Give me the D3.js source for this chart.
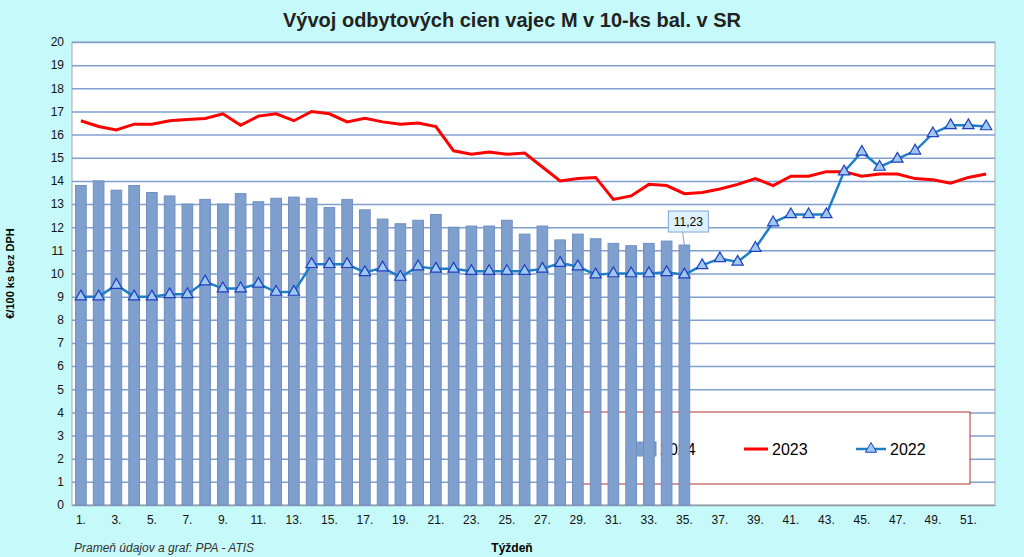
<!DOCTYPE html>
<head>
<meta charset="utf-8">
<script src="https://d3js.org/d3.v7.min.js"></script>
<style>
body{margin:0;background:#c6fafa;}
text{font-family:"Liberation Sans",Arial,sans-serif;}
.title{font-size:20px;font-weight:700;fill:#222;}
.tick text{font-size:12px;fill:#111;}
.tick line{stroke:#7f9fcf;}
path.domain{stroke:#999;}
</style>
</head>
<body>
<script>
const width = 1024, height = 557;
const margin = {top: 42, right: 29, bottom: 52, left: 72};

const weeks = d3.range(1, 53);
const tickWeeks = d3.range(1, 53, 2);
const yTicks = d3.range(0, 21);
const v2024 = [13.8,14.0,13.6,13.8,13.5,13.35,13.0,13.2,13.0,13.45,13.1,13.25,13.3,13.25,12.85,13.2,12.75,12.35,12.15,12.3,12.55,12.0,12.05,12.05,12.3,11.7,12.05,11.45,11.7,11.5,11.3,11.2,11.3,11.4,11.23];
const v2023 = [16.6,16.35,16.2,16.45,16.45,16.6,16.65,16.7,16.9,16.4,16.8,16.9,16.6,17.0,16.9,16.55,16.7,16.55,16.45,16.5,16.35,15.3,15.15,15.25,15.15,15.2,14.6,14.0,14.1,14.15,13.2,13.35,13.85,13.8,13.45,13.5,13.65,13.85,14.1,13.8,14.2,14.2,14.4,14.4,14.2,14.3,14.3,14.1,14.05,13.9,14.15,14.3];
const v2022 = [9.0,9.0,9.5,9.0,9.0,9.1,9.1,9.65,9.35,9.35,9.55,9.2,9.2,10.4,10.4,10.4,10.05,10.25,9.85,10.3,10.2,10.2,10.1,10.1,10.1,10.1,10.2,10.45,10.3,9.95,10.0,10.0,10.0,10.05,9.95,10.35,10.65,10.5,11.1,12.2,12.55,12.55,12.55,14.4,15.25,14.6,14.95,15.3,16.05,16.4,16.4,16.35];

const svg = d3.select("body").append("svg").attr("width", width).attr("height", height);

const x = d3.scaleBand().domain(weeks).range([margin.left, width - margin.right]).paddingInner(0.4).paddingOuter(0.2);
const y = d3.scaleLinear().domain([0, 20]).range([height - margin.bottom, margin.top]);
const cx = w => x(w) + x.bandwidth() / 2;

svg.append("rect").attr("x", margin.left).attr("y", margin.top)
   .attr("width", width - margin.right - margin.left).attr("height", y(0) - margin.top)
   .attr("fill", "#fff").attr("stroke", "#aaa");

svg.append("g").attr("transform", `translate(${margin.left},0)`)
   .call(d3.axisLeft(y).tickValues(yTicks).tickSize(-(width - margin.left - margin.right)).tickPadding(8))
   .call(g => g.select(".domain").remove())
   .selectAll(".tick line").attr("stroke-width", 1.5);

svg.append("g").attr("transform", `translate(0,${y(0)})`)
   .call(d3.axisBottom(x).tickValues(tickWeeks).tickFormat(d => d + ".").tickSize(0).tickPadding(10));

svg.append("text").attr("class", "title").attr("x", 512).attr("y", 27).attr("text-anchor", "middle")
   .text("Vývoj odbytových cien vajec M v 10-ks bal. v SR");
svg.append("text").attr("transform", `translate(14,${y(10)}) rotate(-90)`).attr("text-anchor", "middle")
   .style("font-size", "11px").style("font-weight", "700").text("€/100 ks bez DPH");
svg.append("text").attr("x", 512).attr("y", 552).attr("text-anchor", "middle")
   .style("font-size", "12px").style("font-weight", "700").text("Týždeň");
svg.append("text").attr("x", 74).attr("y", 552).style("font-size", "12px").style("font-style", "italic")
   .attr("fill", "#333").text("Prameň údajov a graf: PPA - ATIS");

const tri = d3.symbol().type(d3.symbolTriangle).size(55);

// legend (drawn under the bars, as in the original)
const lg = svg.append("g").attr("transform", "translate(580,412)");
lg.append("rect").attr("width", 390).attr("height", 72).attr("fill", "#fff").attr("stroke", "#b03030");
lg.append("rect").attr("x", 52).attr("y", 30).attr("width", 24).attr("height", 14).attr("fill", "#7f9fcf").attr("stroke", "#6f8fbf");
lg.append("text").attr("x", 80).attr("y", 43).style("font-size", "16px").text("2024");
lg.append("line").attr("x1", 164).attr("x2", 188).attr("y1", 37).attr("y2", 37).attr("stroke", "#f00").attr("stroke-width", 3);
lg.append("text").attr("x", 192).attr("y", 43).style("font-size", "16px").text("2023");
lg.append("line").attr("x1", 276).attr("x2", 306).attr("y1", 37).attr("y2", 37).attr("stroke", "#1f7fc4").attr("stroke-width", 2.5);
lg.append("path").attr("d", tri).attr("transform", "translate(291,37)").attr("fill", "#9fc8f0").attr("stroke", "#1f3fbf");
lg.append("text").attr("x", 310).attr("y", 43).style("font-size", "16px").text("2022");

svg.selectAll("rect.bar").data(v2024).enter().append("rect").attr("class", "bar")
   .attr("x", (d, i) => x(i + 1)).attr("width", x.bandwidth())
   .attr("y", d => y(d)).attr("height", d => y(0) - y(d))
   .attr("fill", "#7f9fcf").attr("stroke", "#6f8fbf");

const line = d3.line().x((d, i) => cx(i + 1)).y(d => y(d));
svg.append("path").datum(v2023).attr("d", line).attr("fill", "none").attr("stroke", "#f00").attr("stroke-width", 3);
svg.append("path").datum(v2022).attr("d", line).attr("fill", "none").attr("stroke", "#1f7fc4").attr("stroke-width", 2.5);
svg.selectAll("path.m").data(v2022).enter().append("path").attr("class", "m").attr("d", tri)
   .attr("transform", (d, i) => `translate(${cx(i + 1)},${y(d)})`)
   .attr("fill", "#9fc8f0").attr("stroke", "#1f3fbf").attr("stroke-width", 1.2);

// value callout for last 2024 bar
const lw = v2024.length, lv = v2024[lw - 1];
svg.append("line").attr("x1", cx(lw)).attr("y1", y(lv)).attr("x2", cx(lw) - 2).attr("y2", y(lv) - 14).attr("stroke", "#7f9fcf");
svg.append("rect").attr("x", cx(lw) - 16).attr("y", y(lv) - 34).attr("width", 40).attr("height", 21)
   .attr("fill", "#def0fb").attr("stroke", "#7fa8d8");
svg.append("text").attr("x", cx(lw) + 4).attr("y", y(lv) - 19).attr("text-anchor", "middle")
   .style("font-size", "12px").text(String(lv).replace(".", ","));
</script>
</body>
